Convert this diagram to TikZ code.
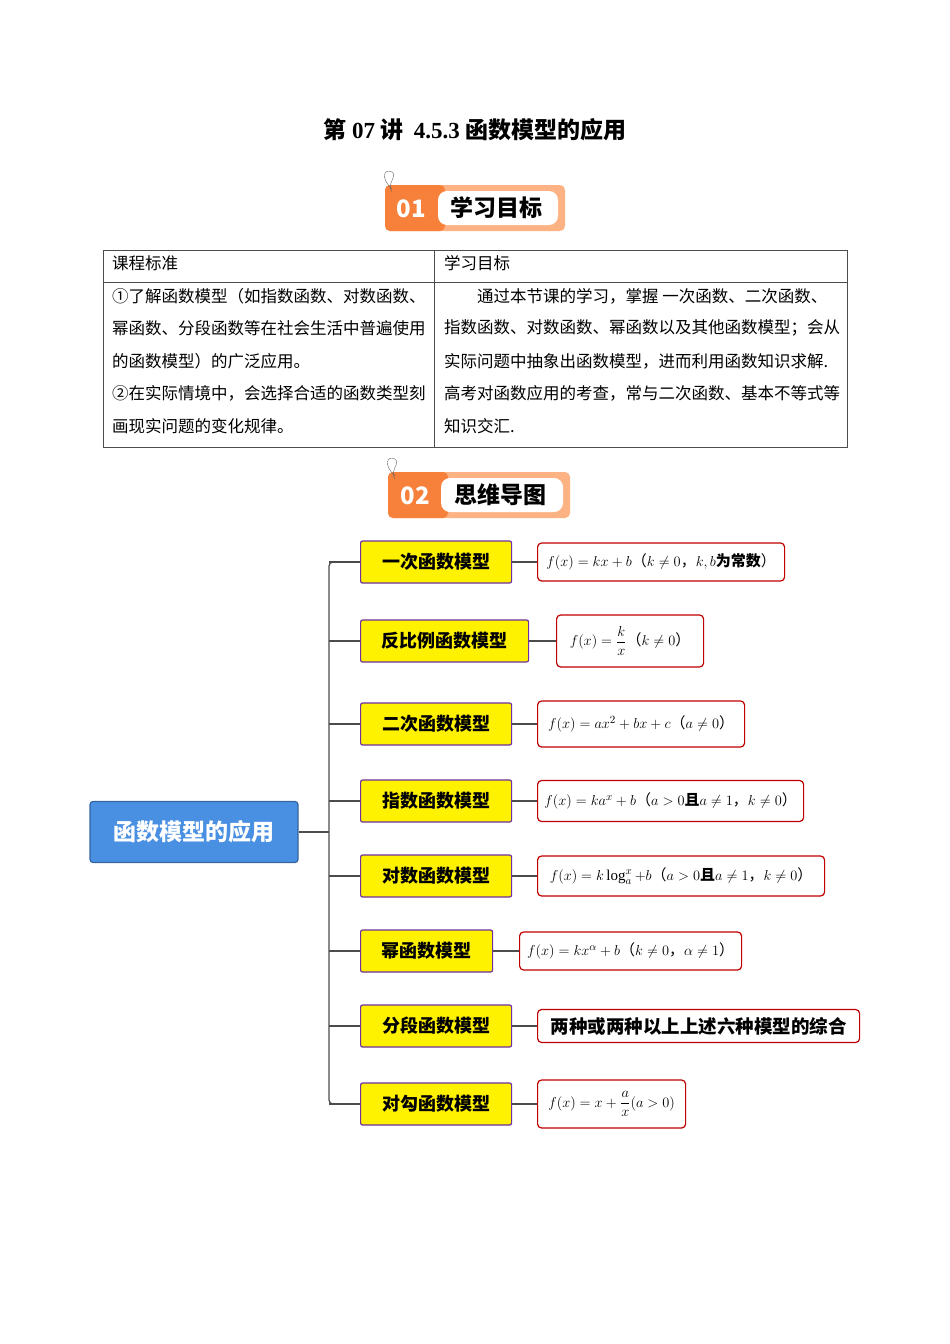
\documentclass[tikz,border=0pt]{standalone}
\usepackage{amsmath}
\usepackage{fontspec}
\setmainfont{Liberation Serif}
\newfontfamily\cjk{Noto Sans CJK SC}
\usetikzlibrary{positioning}
\definecolor{badgedark}{RGB}{247,128,58}
\definecolor{badgelight}{RGB}{252,178,130}
\definecolor{rootblue}{RGB}{74,144,226}
\definecolor{boxpurple}{RGB}{112,48,160}
\definecolor{boxred}{RGB}{192,0,0}
\tikzset{
  ybox/.style={draw=boxpurple, line width=1.2pt, fill=yellow, rounded corners=2pt,
    minimum height=42pt, anchor=west, font=\cjk\bfseries\fontsize{18}{18}\selectfont, inner xsep=0pt},
  fbox/.style={draw=boxred, line width=1.2pt, fill=white, rounded corners=4pt,
    anchor=west, font=\fontsize{15}{15}\selectfont\cjk, inner xsep=2pt},
  txt/.style={anchor=west, font=\cjk\fontsize{16.5}{16.5}\selectfont, inner sep=0pt},
  branch/.style={draw=black!70, line width=1.3pt},
}
\begin{document}
\begin{tikzpicture}[x=1pt,y=-1pt]
\useasboundingbox (0,0) rectangle (950,1344);
%% Title
\node (title) at (475,130) {\cjk\bfseries\fontsize{23}{23}\selectfont 第 {\rmfamily 07} 讲\ \ {\rmfamily 4.5.3} 函数模型的应用};
%% Badge 01
\fill[badgelight, rounded corners=5pt] (385,185) rectangle (565,231);
\fill[badgedark, rounded corners=5pt] (385,185) rectangle (445,231);
\fill[white, rounded corners=9pt] (438,191) rectangle (558,225);
\node[white, font=\cjk\bfseries\fontsize{24}{24}\selectfont] (b1num) at (411,209) {01};
\node[font=\cjk\bfseries\fontsize{23}{23}\selectfont] (b1txt) at (496,208) {学习目标};
\draw[black!60, thin] (392,189) .. controls (380,178) and (384,168) .. (392,172) .. controls (398,176) and (386,184) .. (392,192);
%% Table
\draw[black!70, line width=0.6pt] (103,250) rectangle (847,447);
\draw[black!70, line width=0.6pt] (103,282) -- (847,282);
\draw[black!70, line width=0.6pt] (434,250) -- (434,447);
\node[txt] (h1) at (112,263) {课程标准};
\node[txt] (h2) at (444,263) {学习目标};
\node[txt] (l1) at (112,296) {①了解函数模型（如指数函数、对数函数、};
\node[txt] (l2) at (112,328) {幂函数、分段函数等在社会生活中普遍使用};
\node[txt] (l3) at (112,361) {的函数模型）的广泛应用。};
\node[txt] (l4) at (112,393) {②在实际情境中，会选择合适的函数类型刻};
\node[txt] (l5) at (112,426) {画现实问题的变化规律。};
\node[txt] (r1) at (444,296) {\hspace{33pt}通过本节课的学习，掌握 一次函数、二次函数、};
\node[txt] (r2) at (444,328) {指数函数、对数函数、幂函数以及其他函数模型；会从};
\node[txt] (r3) at (444,361) {实际问题中抽象出函数模型，进而利用函数知识求解.};
\node[txt] (r4) at (444,393) {高考对函数应用的考查，常与二次函数、基本不等式等};
\node[txt] (r5) at (444,426) {知识交汇.};
%% Badge 02
\fill[badgelight, rounded corners=5pt] (388,472) rectangle (570,518);
\fill[badgedark, rounded corners=5pt] (388,472) rectangle (448,518);
\fill[white, rounded corners=9pt] (441,478) rectangle (563,512);
\node[white, font=\cjk\bfseries\fontsize{24}{24}\selectfont] (b2num) at (415,496) {02};
\node[font=\cjk\bfseries\fontsize{23}{23}\selectfont] (b2txt) at (500,495) {思维导图};
\draw[black!60, thin] (395,476) .. controls (383,465) and (387,455) .. (395,459) .. controls (401,463) and (389,471) .. (395,479);
%% Root
\node[draw=rootblue!70!black, line width=1.2pt, fill=rootblue, rounded corners=3pt,
  minimum width=208pt, minimum height=61pt, text=white,
  font=\cjk\bfseries\fontsize{23}{23}\selectfont] (root) at (194,832) {函数模型的应用};
\coordinate (trunk) at (329,832);
\draw[branch] (root.east) -- (trunk);
\draw[branch, rounded corners=4pt] (360,562) -- (329,562) -- (329,1104) -- (360,1104);
%% Models
\foreach \y/\w/\t [count=\i] in {562/151/一次函数模型, 641/168/反比例函数模型, 724/151/二次函数模型,
  801/151/指数函数模型, 876/151/对数函数模型, 951/132/幂函数模型, 1026/151/分段函数模型, 1104/151/对勾函数模型}{
  \node[ybox, minimum width=\w pt] (m\i) at (360,\y) {\t};
  \draw[branch] (329,\y) -- (m\i.west);
}
%% Formulas
\node[fbox, minimum height=38pt, minimum width=247pt] (f1) at (537,562) {$f(x)=kx+b$（$k\neq0$，$k,b$\textbf{为常数}）};
\node[fbox, minimum height=52pt, minimum width=147pt] (f2) at (556,641) {$f(x)=\dfrac{k}{x}$（$k\neq0$）};
\node[fbox, minimum height=46pt, minimum width=207pt] (f3) at (537,724) {$f(x)=ax^2+bx+c$（$a\neq0$）};
\node[fbox, minimum height=41pt, minimum width=266pt] (f4) at (537,801) {$f(x)=ka^x+b$（$a>0$\textbf{且}$a\neq1$，$k\neq0$）};
\node[fbox, minimum height=40pt, minimum width=287pt] (f5) at (537,876) {$f(x)=k\log_a^x+b$（$a>0$\textbf{且}$a\neq1$，$k\neq0$）};
\node[fbox, minimum height=38pt, minimum width=222pt] (f6) at (519,951) {$f(x)=kx^\alpha+b$（$k\neq0$，$\alpha\neq1$）};
\node[fbox, minimum height=33pt, minimum width=322pt, font=\cjk\bfseries\fontsize{18.5}{18.5}\selectfont] (f7) at (537,1026) {两种或两种以上上述六种模型的综合};
\node[fbox, minimum height=48pt, minimum width=148pt] (f8) at (537,1104) {$f(x)=x+\dfrac{a}{x}(a>0)$};
\foreach \i in {1,...,8}{
  \draw[branch] (m\i.east) -- (f\i.west);
}
\end{tikzpicture}
\end{document}
